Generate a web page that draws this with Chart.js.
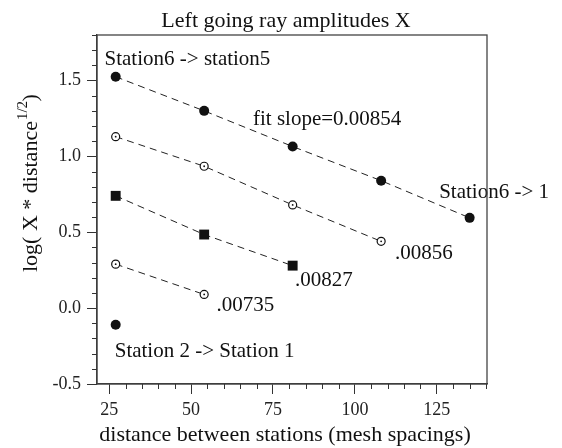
<!DOCTYPE html>
<html>
<head>
<meta charset="utf-8">
<script src="https://cdn.jsdelivr.net/npm/chart.js@4.4.0/dist/chart.umd.min.js"></script>
<style>
  html, body { margin: 0; padding: 0; background: #fff; }
  #wrap { width: 562px; height: 448px; position: relative; }
</style>
</head>
<body>
<div id="wrap"><canvas id="chart"></canvas></div>
<script>
// distances between stations (mesh spacings)
const distances = [27, 54, 81, 108, 135];

// log( X * distance^1/2 ) for each station group
const station6Series = [1.525, 1.30, 1.065, 0.84, 0.595];   // fit slope=0.00854
const slope856Series = [1.13, 0.935, 0.68, 0.44];
const slope827Series = [0.74, 0.485, 0.28];
const slope735Series = [0.29, 0.09];
const station2Series = [-0.11];

const xTickValues = [25, 50, 75, 100, 125];
const yTickValues = [-0.5, 0.0, 0.5, 1.0, 1.5];

const chartTitle = 'Left going ray amplitudes X';
const xTitle = 'distance between stations (mesh spacings)';

const serif = "'Liberation Serif', 'Times New Roman', serif";

function pts(vals) {
  return vals.map((v, i) => ({ x: distances[i], y: v }));
}

function lineSet(vals, style, radius, open) {
  return {
    data: pts(vals),
    showLine: true,
    borderColor: '#222',
    borderWidth: 1,
    borderDash: [7, 5],
    pointStyle: style,
    pointRadius: radius,
    pointBackgroundColor: open ? '#fff' : '#111',
    pointBorderColor: '#111',
    pointBorderWidth: open ? 1.2 : 0,
    fill: false,
    tension: 0,
    open: !!open,
  };
}

// text notes placed in data units
const notes = [
  { text: 'Station6 -> station5', x: 23.6, y: 1.60 },
  { text: 'fit slope=0.00854', x: 68.9, y: 1.205 },
  { text: 'Station6 -> 1', x: 125.7, y: 0.724 },
  { text: '.00856', x: 112.2, y: 0.321 },
  { text: '.00827', x: 81.7, y: 0.146 },
  { text: '.00735', x: 57.8, y: -0.022 },
  { text: 'Station 2 -> Station 1', x: 26.7, y: -0.324 },
];

const textPlugin = {
  id: 'texts',
  afterDatasetsDraw(chart) {
    const { ctx, scales } = chart;
    ctx.save();

    // little dot in the middle of the open circles
    ctx.fillStyle = '#111';
    chart.data.datasets.forEach((ds, i) => {
      if (!ds.open) return;
      chart.getDatasetMeta(i).data.forEach(p => {
        ctx.beginPath();
        ctx.arc(p.x, p.y, 0.9, 0, 2 * Math.PI);
        ctx.fill();
      });
    });

    ctx.font = '21px ' + serif;
    ctx.textAlign = 'left';
    ctx.textBaseline = 'alphabetic';
    notes.forEach(n => {
      ctx.fillText(n.text, scales.x.getPixelForValue(n.x), scales.y.getPixelForValue(n.y));
    });

    // chart title and x axis title
    ctx.font = '22px ' + serif;
    ctx.textAlign = 'center';
    ctx.fillText(chartTitle, 286, 27);
    ctx.fillText(xTitle, 285, 441);

    // y axis title with superscript
    ctx.translate(37, 272);
    ctx.rotate(-Math.PI / 2);
    ctx.textAlign = 'left';
    const main = 'log( X * distance';
    ctx.font = '22px ' + serif;
    ctx.fillText(main, 0, 0);
    const w1 = ctx.measureText(main).width;
    ctx.font = '15px ' + serif;
    ctx.fillText('1/2', w1 + 1, -10);
    const w2 = ctx.measureText('1/2').width;
    ctx.font = '22px ' + serif;
    ctx.fillText(' )', w1 + w2 - 5, 0);
    ctx.restore();
  }
};

const framePlugin = {
  id: 'frame',
  afterDraw(chart) {
    const { ctx, chartArea: a, scales } = chart;
    ctx.save();
    ctx.strokeStyle = '#444';
    ctx.lineWidth = 1.3;
    ctx.strokeRect(a.left, a.top, a.right - a.left, a.bottom - a.top);

    // minor ticks
    ctx.strokeStyle = '#333';
    ctx.lineWidth = 1;
    ctx.beginPath();
    for (let v = Math.ceil(scales.x.min / 5) * 5; v <= scales.x.max; v += 5) {
      if (v % 25 === 0) continue;
      const px = Math.round(scales.x.getPixelForValue(v)) + 0.5;
      ctx.moveTo(px, a.bottom);
      ctx.lineTo(px, a.bottom + 5);
    }
    for (let k = -5; k <= 18; k++) {
      if (k % 5 === 0) continue;
      const py = Math.round(scales.y.getPixelForValue(k / 10)) + 0.5;
      ctx.moveTo(a.left, py);
      ctx.lineTo(a.left - 5, py);
    }
    ctx.stroke();
    ctx.restore();
  }
};

new Chart(document.getElementById('chart'), {
  type: 'scatter',
  data: {
    datasets: [
      lineSet(station6Series, 'circle', 5, false),
      lineSet(slope856Series, 'circle', 4, true),
      lineSet(slope827Series, 'rect', 7, false),
      lineSet(slope735Series, 'circle', 4, true),
      lineSet(station2Series, 'circle', 5, false),
    ]
  },
  options: {
    responsive: true,
    maintainAspectRatio: false,
    animation: false,
    layout: { padding: { top: 35, right: 75, left: 0, bottom: 0 } },
    plugins: {
      legend: { display: false },
      title: { display: false },
      tooltip: { enabled: false },
    },
    scales: {
      x: {
        type: 'linear',
        min: 21.3,
        max: 140.3,
        afterBuildTicks: s => { s.ticks = xTickValues.map(v => ({ value: v })); },
        afterFit: s => { s.height = 64; },
        ticks: {
          font: { family: serif, size: 18 },
          color: '#222',
          padding: 5,
          maxRotation: 0,
          autoSkip: false,
        },
        grid: { drawOnChartArea: false, drawTicks: true, tickLength: 10, color: '#333' },
        border: { display: true, color: '#333', width: 1.3 },
      },
      y: {
        min: -0.5,
        max: 1.8,
        afterBuildTicks: s => { s.ticks = yTickValues.map(v => ({ value: v })); },
        afterFit: s => { s.width = 97; },
        ticks: {
          font: { family: serif, size: 18 },
          color: '#222',
          padding: 6,
          autoSkip: false,
          callback: v => v.toFixed(1),
        },
        grid: { drawOnChartArea: false, drawTicks: true, tickLength: 10, color: '#333' },
        border: { display: true, color: '#333', width: 1.3 },
      }
    }
  },
  plugins: [textPlugin, framePlugin]
});
</script>
</body>
</html>
